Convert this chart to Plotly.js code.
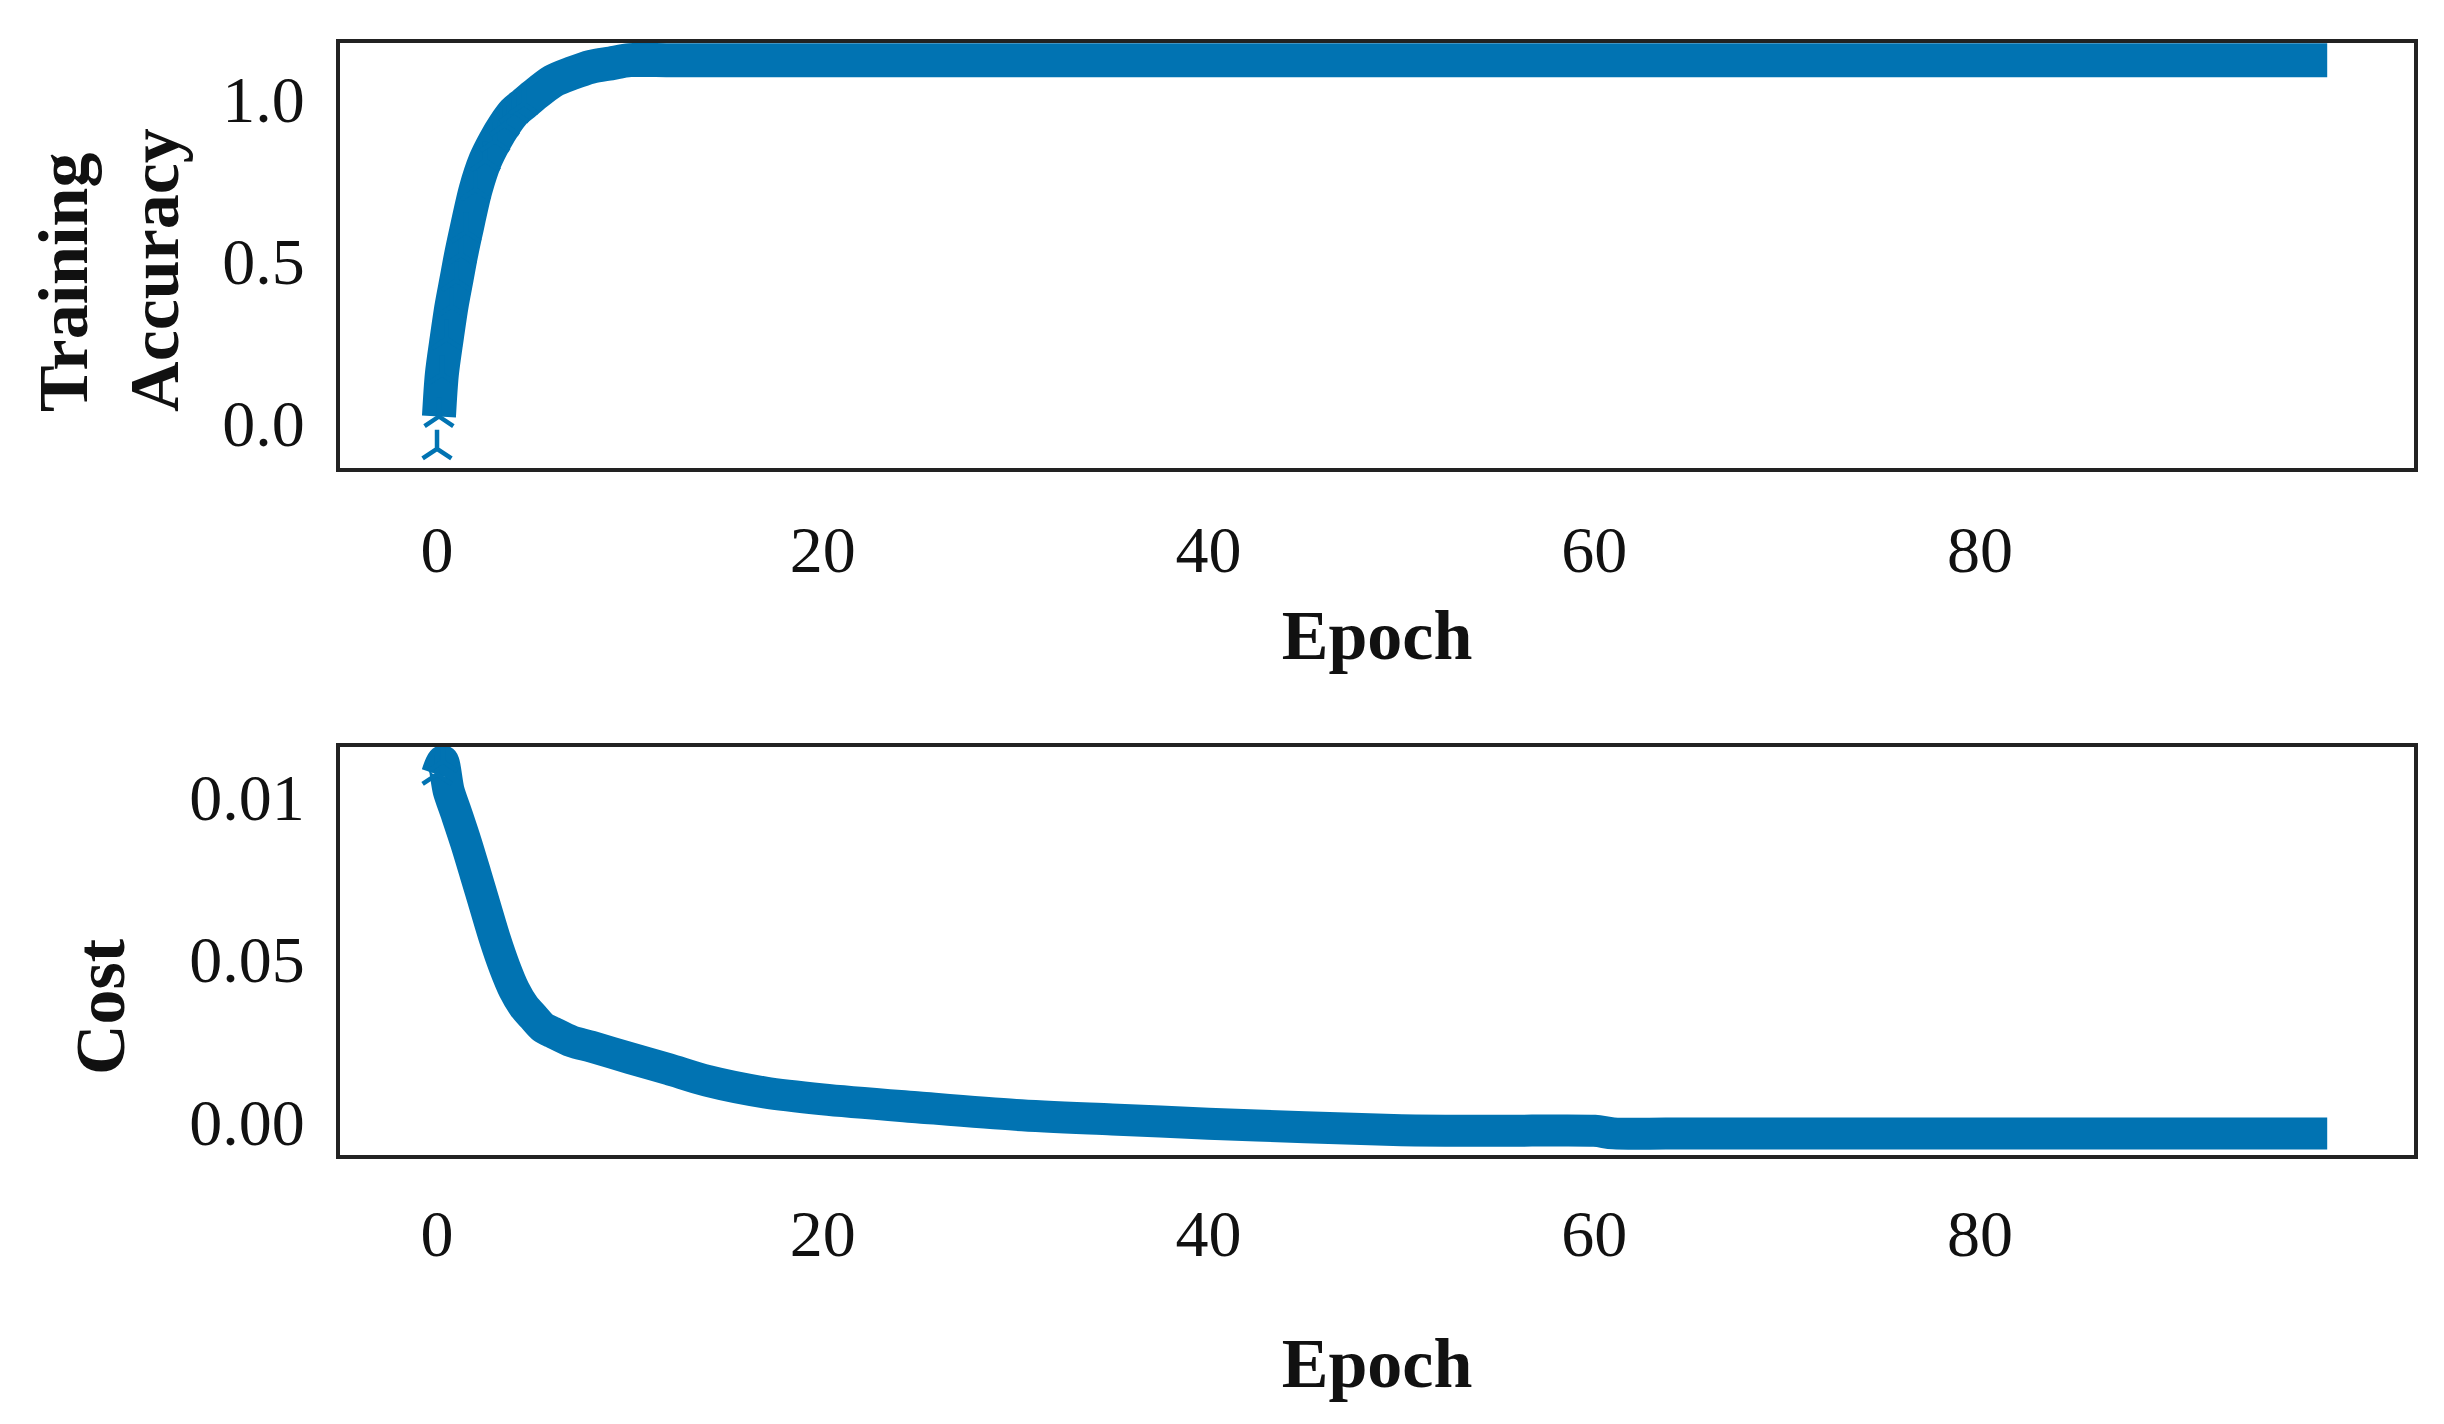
<!DOCTYPE html>
<html>
<head>
<meta charset="utf-8">
<script src="https://cdn.plot.ly/plotly-3.0.1.min.js"></script>
<style>
  html, body { margin: 0; padding: 0; background: #fff; }
  #chart { width: 2444px; height: 1424px; }
</style>
</head>
<body>
<div id="chart"></div>
<script>
// training accuracy
let accEpoch = [0, 0.1, 0.25, 0.5, 0.75, 1.0, 1.25, 1.5, 2.0, 2.5, 3.0, 3.5, 4.0, 4.5, 5.0, 6.0, 7.0, 8.0, 9.0,
  10, 12, 15, 20, 25, 30, 35, 40, 45, 50, 55, 60, 65, 70, 75, 80, 85, 90, 95, 98];
let accuracy = [-0.08, 0.02, 0.15, 0.26, 0.36, 0.44, 0.52, 0.59, 0.72, 0.81, 0.87, 0.92, 0.96, 0.985, 1.01, 1.055, 1.08, 1.10, 1.11,
  1.12, 1.12, 1.12, 1.12, 1.12, 1.12, 1.12, 1.12, 1.12, 1.12, 1.12, 1.12, 1.12, 1.12, 1.12, 1.12, 1.12, 1.12, 1.12, 1.12];

// cost
let costEpoch = [0, 0.3, 0.6, 1.0, 1.5, 2.0, 2.5, 3.0, 3.5, 4.0, 4.5, 5.0, 5.5, 6.0, 7.0, 8.0,
  10, 12, 14, 17, 20, 25, 30, 35, 40, 45, 50, 55, 60, 61, 65, 70, 75, 80, 85, 90, 95, 98];
let cost = [0.107, 0.111, 0.102, 0.095, 0.086, 0.0762, 0.0662, 0.0563, 0.0477, 0.0406, 0.0356, 0.0322, 0.029, 0.0275, 0.0247, 0.0231,
  0.0196, 0.0162, 0.0126, 0.009, 0.0069, 0.0044, 0.0021, 0.0007, -0.0006, -0.0017, -0.0026, -0.0028, -0.0028,
  -0.0036, -0.0036, -0.0036, -0.0036, -0.0036, -0.0036, -0.0036, -0.0036, -0.0036];

let epochTicks = [0, 20, 40, 60, 80];
let accTicks = [0, 0.5, 1.0];
let accTickText = ["0.0", "0.5", "1.0"];
let costTicks = [0, 0.05, 0.1];
let costTickText = ["0.00", "0.05", "0.01"];

let blue = "#0173B2";
let serif = "Liberation Serif, DejaVu Serif, serif";

// the triangle markers only stick out where the curve climbs
let accMarked = 14;
let costMarked = 2;

let markerStyle = {
  symbol: "y-up-open",
  size: 24,
  color: blue,
  line: { color: blue, width: 4.5 },
};

let data = [
  {
    x: accEpoch.slice(1), y: accuracy.slice(1),
    type: "scatter", mode: "lines",
    line: { color: blue, width: 34, shape: "spline", smoothing: 0.8 },
    xaxis: "x", yaxis: "y", hoverinfo: "skip",
  },
  {
    x: accEpoch.slice(0, accMarked), y: accuracy.slice(0, accMarked),
    type: "scatter", mode: "markers",
    marker: markerStyle,
    xaxis: "x", yaxis: "y",
  },
  {
    x: costEpoch, y: cost,
    type: "scatter", mode: "lines",
    line: { color: blue, width: 32, shape: "spline", smoothing: 0.8 },
    xaxis: "x2", yaxis: "y2", hoverinfo: "skip",
  },
  {
    x: costEpoch.slice(0, costMarked), y: cost.slice(0, costMarked),
    type: "scatter", mode: "markers",
    marker: markerStyle,
    xaxis: "x2", yaxis: "y2",
  },
];

let tickFont = { family: serif, size: 66, color: "#111" };
let titleFont = { family: serif, size: 70, color: "#111", weight: "bold" };

let frame = {
  showline: true, mirror: true, linecolor: "#222", linewidth: 4,
  showgrid: false, zeroline: false, ticks: "", automargin: false,
  tickfont: tickFont,
};

let layout = {
  width: 2444,
  height: 1424,
  paper_bgcolor: "#fff",
  plot_bgcolor: "#fff",
  showlegend: false,
  margin: { l: 340, r: 30, t: 43, b: 269 },
  xaxis: Object.assign({}, frame, {
    domain: [0, 1], anchor: "y",
    range: [-5.03, 102.5],
    tickvals: epochTicks,
    ticklabelstandoff: 21,
    title: { text: "Epoch", font: titleFont, standoff: 26 },
  }),
  yaxis: Object.assign({}, frame, {
    domain: [0.6178, 1], anchor: "x",
    range: [-0.139, 1.173],
    tickvals: accTicks, ticktext: accTickText,
    ticklabelstandoff: 18,
  }),
  xaxis2: Object.assign({}, frame, {
    domain: [0, 1], anchor: "y2",
    range: [-5.03, 102.5],
    tickvals: epochTicks,
    ticklabelstandoff: 18,
    title: { text: "Epoch", font: titleFont, standoff: 70 },
  }),
  yaxis2: Object.assign({}, frame, {
    domain: [0, 0.3669], anchor: "x2",
    range: [-0.01025, 0.1154],
    tickvals: costTicks, ticktext: costTickText,
    ticklabelstandoff: 18,
  }),
  annotations: [
    {
      text: "Training<br>Accuracy", textangle: -90, align: "left",
      xref: "paper", yref: "paper", x: -0.1114, y: 0.7959,
      xanchor: "center", yanchor: "middle", showarrow: false,
      font: titleFont,
    },
    {
      text: "Cost", textangle: -90,
      xref: "paper", yref: "paper", x: -0.1152, y: 0.1331,
      xanchor: "center", yanchor: "middle", showarrow: false,
      font: titleFont,
    },
  ],
};

Plotly.newPlot("chart", data, layout, { displayModeBar: false, staticPlot: true });
</script>
</body>
</html>
